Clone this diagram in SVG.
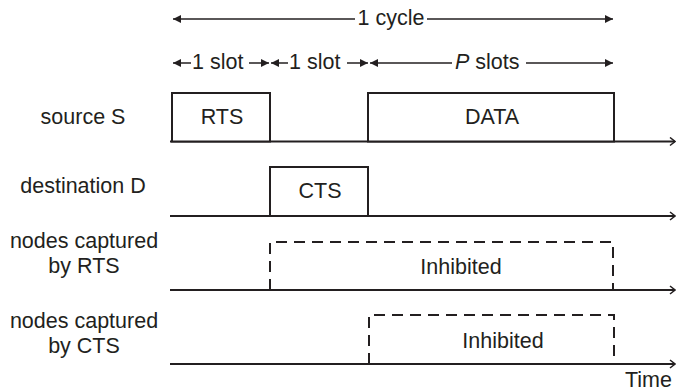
<svg xmlns="http://www.w3.org/2000/svg" width="676" height="391" viewBox="0 0 676 391">
<defs>
<marker id="open" viewBox="0 0 10 10" refX="9" refY="5" markerWidth="10" markerHeight="10" markerUnits="userSpaceOnUse" orient="auto">
<polyline points="4,1 9,5 4,9" fill="none" stroke="#231f20" stroke-width="1.5"/>
</marker>
<marker id="tri" viewBox="0 0 10 10" refX="10" refY="5" markerWidth="10" markerHeight="8" markerUnits="userSpaceOnUse" orient="auto-start-reverse">
<path d="M0,0 L10,5 L0,10 Z" fill="#231f20"/>
</marker>
</defs>
<style>
text{font-family:"Liberation Sans",Arial,sans-serif;font-size:21.5px;fill:#231f20}
.c{text-anchor:middle}
.box{fill:#fff;stroke:#231f20;stroke-width:2}
.dash{fill:none;stroke:#231f20;stroke-width:2;stroke-dasharray:11,7}
.axis{stroke:#231f20;stroke-width:2;fill:none;marker-end:url(#open)}
.dim{stroke:#231f20;stroke-width:1.5;fill:none}
</style>
<g id="connectors">
<line class="axis" x1="170" y1="141.5" x2="675" y2="141.5"/>
<line class="axis" x1="170" y1="216" x2="675" y2="216"/>
<line class="axis" x1="170" y1="290" x2="675" y2="290"/>
<line class="axis" x1="170" y1="364" x2="675" y2="364"/>
<line class="dim" x1="173" y1="19" x2="355" y2="19" marker-start="url(#tri)"/>
<line class="dim" x1="427" y1="19" x2="613" y2="19" marker-end="url(#tri)"/>
<line class="dim" x1="173" y1="63" x2="191" y2="63" marker-start="url(#tri)"/>
<line class="dim" x1="249" y1="63" x2="269" y2="63" marker-end="url(#tri)"/>
<line class="dim" x1="271" y1="63" x2="288" y2="63" marker-start="url(#tri)"/>
<line class="dim" x1="347" y1="63" x2="368" y2="63" marker-end="url(#tri)"/>
<line class="dim" x1="370" y1="63" x2="452" y2="63" marker-start="url(#tri)"/>
<line class="dim" x1="526" y1="63" x2="613" y2="63" marker-end="url(#tri)"/>
</g>
<g id="labels-top">
<text class="c" x="391" y="25">1 cycle</text>
<text x="192" y="69">1 slot</text>
<text x="289" y="69">1 slot</text>
<text x="455" y="69"><tspan font-style="italic">P</tspan> slots</text>
</g>
<g id="row-source">
<text class="c" x="83" y="124">source S</text>
<rect class="box" x="172" y="93" width="98" height="48.5"/>
<text class="c" x="222" y="124">RTS</text>
<rect class="box" x="368" y="93" width="246" height="48.5"/>
<text class="c" x="492" y="124">DATA</text>
</g>
<g id="row-destination">
<text class="c" x="83" y="193">destination D</text>
<rect class="box" x="270" y="167" width="98" height="49"/>
<text class="c" x="320" y="198">CTS</text>
</g>
<g id="row-rts">
<text class="c" x="84" y="248">nodes captured</text>
<text class="c" x="84" y="273">by RTS</text>
<polyline class="dash" points="270,290 270,242 613,242 613,290"/>
<text class="c" x="461" y="274">Inhibited</text>
</g>
<g id="row-cts">
<text class="c" x="84" y="328">nodes captured</text>
<text class="c" x="84" y="353">by CTS</text>
<polyline class="dash" points="369,364 369,315 614,315 614,364"/>
<text class="c" x="503" y="348">Inhibited</text>
</g>
<g id="time">
<text x="625" y="387">Time</text>
</g>
</svg>
